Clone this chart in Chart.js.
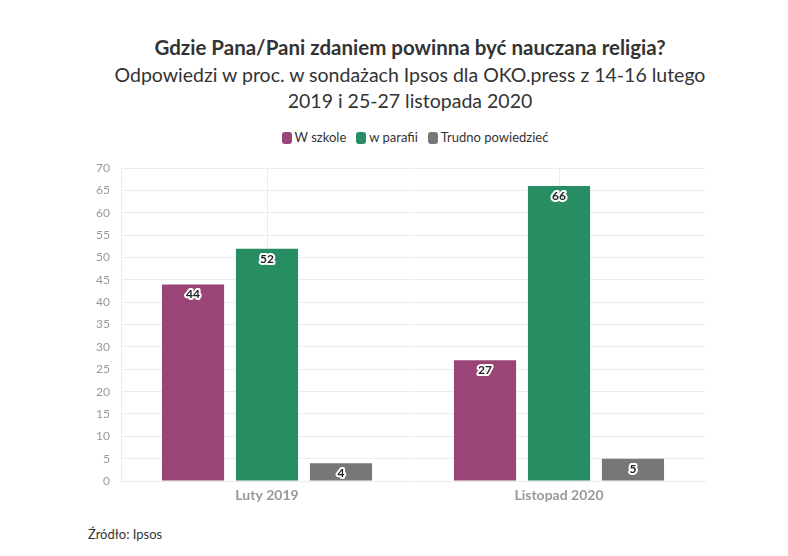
<!DOCTYPE html>
<html>
<head>
<meta charset="utf-8">
<script src="https://cdn.jsdelivr.net/npm/chart.js@4"></script>
<style>
  body { margin: 0; background: #fff; font-family: Lato, sans-serif; }
  #wrap { position: relative; width: 788px; height: 556px; overflow: hidden; }
  .title { position: absolute; left: 60px; width: 700px; text-align: center; color: #333; white-space: nowrap; }
  #t1 { top: 35px; font-size: 20.5px; font-weight: bold; }
  #t2 { top: 62px; font-size: 19.5px; line-height: 26px; }
  #legend { position: absolute; top: 129px; left: 110px; width: 610px; text-align: center; font-size: 13px; color: #333; }
  #legend span.item { margin: 0 5px; white-space: nowrap; }
  #legend i { display: inline-block; width: 10px; height: 12px; border-radius: 3px; vertical-align: -2px; margin-right: 3px; }
  #src { position: absolute; left: 88px; top: 526px; font-size: 13px; color: #333; }
  canvas { position: absolute; left: 0; top: 150px; }
</style>
</head>
<body>
<div id="wrap">
  <div class="title" id="t1">Gdzie Pana/Pani zdaniem powinna być nauczana religia?</div>
  <div class="title" id="t2">Odpowiedzi w proc. w sondażach Ipsos dla OKO.press z 14-16 lutego<br>2019 i 25-27 listopada 2020</div>
  <div id="legend"></div>
  <canvas id="chart" width="788" height="356"></canvas>
  <div id="src">Źródło: Ipsos</div>
</div>
<script>
const categories = ['Luty 2019', 'Listopad 2020'];
const seriesNames = ['W szkole', 'w parafii', 'Trudno powiedzieć'];
const wSzkole = [44, 27];
const wParafii = [52, 66];
const trudno = [4, 5];
const colors = ['#9b4577', '#268e62', '#777777'];
const yTicks = [0, 5, 10, 15, 20, 25, 30, 35, 40, 45, 50, 55, 60, 65, 70];

// legend in html
const legend = document.getElementById('legend');
seriesNames.forEach((name, i) => {
    const item = document.createElement('span');
    item.className = 'item';
    item.innerHTML = `<i style="background:${colors[i]}"></i>${name}`;
    legend.appendChild(item);
});

// value labels with white halo, just below bar top
const valueLabels = {
    id: 'valueLabels',
    afterDatasetsDraw(chart) {
        const ctx = chart.ctx;
        ctx.save();
        ctx.font = 'bold 12px Lato, sans-serif';
        ctx.textAlign = 'center';
        ctx.textBaseline = 'middle';
        ctx.lineJoin = 'round';
        chart.data.datasets.forEach((ds, di) => {
            chart.getDatasetMeta(di).data.forEach((bar, i) => {
                const y = bar.y + 10;
                ctx.lineWidth = 4;
                ctx.strokeStyle = '#fff';
                ctx.strokeText(ds.data[i], bar.x, y);
                ctx.fillStyle = '#222';
                ctx.fillText(ds.data[i], bar.x, y);
            });
        });
        ctx.restore();
    }
};

const dataSets = [wSzkole, wParafii, trudno].map((vals, i) => ({
    label: seriesNames[i],
    data: vals,
    backgroundColor: colors[i],
    barPercentage: 0.84,
    categoryPercentage: 0.76
}));

new Chart(document.getElementById('chart'), {
    type: 'bar',
    data: { labels: categories, datasets: dataSets },
    options: {
        responsive: false,
        animation: false,
        layout: { padding: { top: 18, right: 83, left: 0, bottom: 0 } },
        plugins: {
            legend: { display: false },
            tooltip: { enabled: false }
        },
        scales: {
            x: {
                grid: { offset: false, color: '#ececec', drawTicks: false },
                border: { color: '#ececec' },
                ticks: {
                    padding: 6,
                    color: '#999',
                    font: { family: 'Lato, sans-serif', size: 14, weight: 'bold' }
                },
                afterFit: (scale) => { scale.height = 25; }
            },
            y: {
                min: 0,
                max: 70,
                afterBuildTicks: (scale) => { scale.ticks = yTicks.map(v => ({ value: v })); },
                grid: { color: '#ececec', drawTicks: false },
                border: { color: '#ececec' },
                ticks: {
                    padding: 11,
                    color: '#999',
                    font: { family: 'Lato, sans-serif', size: 12 }
                },
                afterFit: (scale) => { scale.width = 121; }
            }
        }
    },
    plugins: [valueLabels]
});
</script>
</body>
</html>
